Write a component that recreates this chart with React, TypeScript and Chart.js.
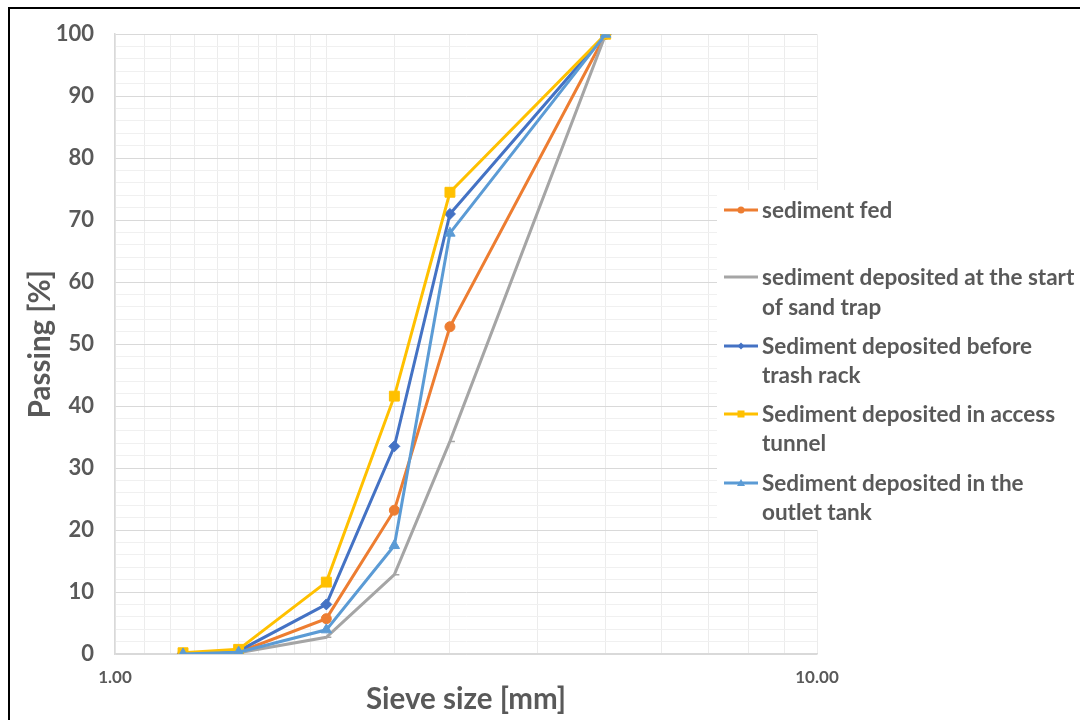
import React, { useEffect, useRef } from "react";
import { Chart, registerables } from "chart.js";

Chart.register(...registerables);

const sieveSizes = [1.25, 1.5, 2, 2.5, 3, 5];
const sedimentFed = [0.1, 0.3, 5.7, 23.2, 52.8, 100];
const startOfSandTrap = [0, 0.2, 2.7, 12.8, 34.3, 100];
const beforeTrashRack = [0.1, 0.5, 8.0, 33.5, 71.0, 100];
const accessTunnel = [0.2, 0.75, 11.6, 41.6, 74.5, 100];
const outletTank = [0, 0.3, 3.9, 17.5, 67.9, 100];

const seriesNames = [
  ["sediment fed"],
  ["sediment deposited at the start", "of sand trap"],
  ["Sediment deposited before", "trash rack"],
  ["Sediment deposited in access", "tunnel"],
  ["Sediment deposited in the", "outlet tank"],
];
const seriesValues = [sedimentFed, startOfSandTrap, beforeTrashRack, accessTunnel, outletTank];
const seriesColors = ["#ED7D31", "#A5A5A5", "#4472C4", "#FFC000", "#5B9BD5"];
const seriesMarkers: any[] = ["circle", "dash", "rectRot", "rect", "triangle"];
const markerRadius = [5, 5, 5.5, 7, 6];

const xTickLabels: Record<number, string> = { 1: "1.00", 10: "10.00" };

const FONT = "Lato, 'Open Sans', sans-serif";
const TEXT = "#595959";

const legendPlugin = {
  id: "customLegend",
  afterDraw(chart: any) {
    const ctx = chart.ctx as CanvasRenderingContext2D;
    ctx.save();
    // frame (top and left edges)
    ctx.fillStyle = "#000";
    ctx.fillRect(8, 7, 1072, 2);
    ctx.fillRect(8, 7, 2, 713);
    // legend box
    ctx.fillStyle = "#fff";
    ctx.fillRect(717, 190, 363, 340);
    const rows = [[210], [277, 307], [346, 375], [414, 443], [483, 512]];
    ctx.font = `bold 22.5px ${FONT}`;
    ctx.textBaseline = "middle";
    ctx.textAlign = "left";
    seriesNames.forEach((lines, i) => {
      const ys = rows[i];
      const color = seriesColors[i];
      ctx.strokeStyle = color;
      ctx.lineWidth = 3;
      ctx.beginPath();
      ctx.moveTo(724, ys[0]);
      ctx.lineTo(758, ys[0]);
      ctx.stroke();
      const cx = 741;
      const cy = ys[0];
      ctx.fillStyle = color;
      const m = seriesMarkers[i];
      if (m === "circle") {
        ctx.beginPath();
        ctx.arc(cx, cy, 3.5, 0, Math.PI * 2);
        ctx.fill();
      } else if (m === "rectRot") {
        ctx.beginPath();
        ctx.moveTo(cx, cy - 3.5);
        ctx.lineTo(cx + 3.5, cy);
        ctx.lineTo(cx, cy + 3.5);
        ctx.lineTo(cx - 3.5, cy);
        ctx.closePath();
        ctx.fill();
      } else if (m === "rect") {
        ctx.fillRect(cx - 3.5, cy - 3.5, 7, 7);
      } else if (m === "triangle") {
        ctx.beginPath();
        ctx.moveTo(cx, cy - 4);
        ctx.lineTo(cx + 4, cy + 3);
        ctx.lineTo(cx - 4, cy + 3);
        ctx.closePath();
        ctx.fill();
      }
      ctx.fillStyle = TEXT;
      lines.forEach((t, k) => ctx.fillText(t, 762, ys[k] + 1));
    });
    ctx.restore();
  },
};

export default function App() {
  const ref = useRef<HTMLCanvasElement>(null);
  useEffect(() => {
    if (!ref.current) return;
    const chart = new Chart(ref.current, {
      type: "line",
      data: {
        datasets: seriesValues.map((vals, i) => ({
          label: seriesNames[i].join(" "),
          data: sieveSizes.map((x, j) => ({ x, y: vals[j] })),
          borderColor: seriesColors[i],
          backgroundColor: seriesColors[i],
          borderWidth: 3,
          pointStyle: seriesMarkers[i],
          pointRadius: markerRadius[i],
          pointBorderWidth: seriesMarkers[i] === "dash" ? 1.5 : 1,
          pointBorderColor: seriesColors[i],
          pointBackgroundColor: seriesColors[i],
          tension: 0,
          order: 5 - i,
        })),
      },
      plugins: [legendPlugin],
      options: {
        animation: false,
        responsive: false,
        maintainAspectRatio: false,
        layout: { padding: { left: 0, top: 32, right: 263, bottom: 0 } },
        plugins: { legend: { display: false }, tooltip: { enabled: false } },
        scales: {
          x: {
            type: "logarithmic",
            min: 1,
            max: 10,
            afterFit: (s: any) => {
              s.height = 66;
            },
            grid: { color: "#ececec", lineWidth: 1, drawTicks: false },
            border: { color: "#d9d9d9", width: 1.5 },
            ticks: {
              autoSkip: false,
              maxRotation: 0,
              padding: 13,
              color: TEXT,
              font: { family: FONT, size: 17, weight: "bold" },
              callback: (v: any) => xTickLabels[Number(v)] ?? "",
            },
            title: {
              display: true,
              text: "Sieve size [mm]",
              color: TEXT,
              font: { family: FONT, size: 29.5, weight: "bold" },
              padding: { top: 0, bottom: 3 },
            },
          },
          y: {
            type: "linear",
            min: 0,
            max: 100,
            afterFit: (s: any) => {
              s.width = 115;
            },
            grid: {
              drawTicks: false,
              color: (c: any) => (c.tick && c.tick.value % 10 === 0 ? "#d9d9d9" : "#f0f0f0"),
              lineWidth: 1,
            },
            border: { color: "#d9d9d9", width: 1.5 },
            ticks: {
              stepSize: 2,
              autoSkip: false,
              padding: 21,
              color: TEXT,
              font: { family: FONT, size: 22, weight: "bold" },
              callback: (v: any) => (Number(v) % 10 === 0 ? String(v) : ""),
            },
            title: {
              display: true,
              text: "Passing [%]",
              color: TEXT,
              font: { family: FONT, size: 29.5, weight: "bold" },
              padding: { top: 23, bottom: 0 },
            },
          },
        },
      },
    });
    return () => chart.destroy();
  }, []);
  return (
    <div style={{ position: "fixed", left: 0, top: 0, width: 1080, height: 720, background: "#fff" }}>
      <canvas ref={ref} width={1080} height={720} style={{ display: "block", width: 1080, height: 720 }} />
    </div>
  );
}
